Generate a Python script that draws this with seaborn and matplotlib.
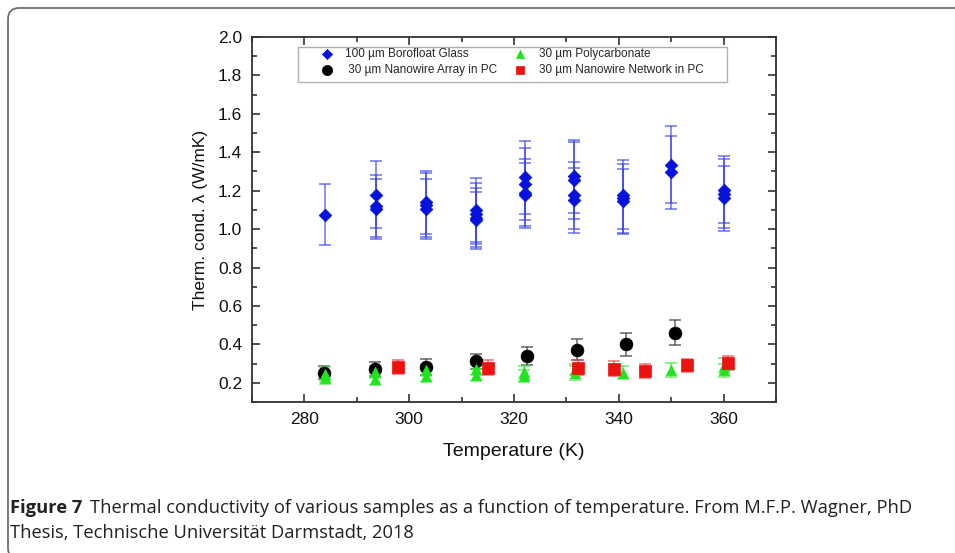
import matplotlib
matplotlib.use('Agg')
import matplotlib.pyplot as plt
from matplotlib.patches import FancyBboxPatch, Rectangle
from matplotlib.transforms import IdentityTransform
from matplotlib.ticker import MultipleLocator
import seaborn as sns
import pandas as pd

# --- data ---
glass_T = [284.0,
           293.6, 293.6, 293.6,
           303.2, 303.2, 303.2,
           312.7, 312.7, 312.7, 312.7,
           322.1, 322.1, 322.1, 322.1,
           331.4, 331.4, 331.4, 331.4,
           340.8, 340.8, 340.8,
           350.0, 350.0,
           360.0, 360.0, 360.0]
glass_k = [1.075,
           1.18, 1.12, 1.105,
           1.14, 1.125, 1.105,
           1.10, 1.08, 1.06, 1.045,
           1.27, 1.235, 1.19, 1.175,
           1.275, 1.255, 1.175, 1.15,
           1.18, 1.16, 1.145,
           1.335, 1.295,
           1.205, 1.185, 1.16]
glass_err = [0.16,
             0.175, 0.16, 0.155,
             0.165, 0.165, 0.155,
             0.165, 0.16, 0.155, 0.15,
             0.19, 0.185, 0.175, 0.17,
             0.19, 0.2, 0.175, 0.17,
             0.18, 0.18, 0.17,
             0.2, 0.19,
             0.175, 0.18, 0.17]

array_T = [283.8, 293.4, 303.2, 312.8, 322.5, 332.0, 341.4, 350.7]
array_k = [0.253, 0.272, 0.282, 0.312, 0.34, 0.373, 0.40, 0.46]
array_err = [0.035, 0.035, 0.04, 0.04, 0.045, 0.055, 0.06, 0.065]

pc_T = [284.0, 284.0, 293.5, 293.5, 303.2, 303.2, 312.8, 312.8, 322.0, 322.0,
        331.6, 331.6, 340.8, 349.9, 360.0, 360.0]
pc_k = [0.245, 0.225, 0.255, 0.22, 0.265, 0.235, 0.27, 0.24, 0.255, 0.235,
        0.27, 0.25, 0.253, 0.265, 0.29, 0.265]
pc_err = [0.035, 0.03, 0.03, 0.03, 0.03, 0.03, 0.03, 0.03, 0.035, 0.03,
          0.03, 0.035, 0.035, 0.037, 0.04, 0.035]

net_T = [297.9, 315.0, 332.2, 339.0, 345.0, 353.0, 360.8]
net_k = [0.283, 0.279, 0.279, 0.274, 0.262, 0.291, 0.305]
net_err = [0.038, 0.04, 0.038, 0.037, 0.035, 0.033, 0.036]

labels = ['100 µm Borofloat Glass', ' 30 µm Nanowire Array in PC',
          '30 µm Polycarbonate', '30 µm Nanowire Network in PC']

caption_bold = 'Figure 7'
caption_line1 = ('Thermal conductivity of various samples as a function of '
                 'temperature. From M.F.P. Wagner, PhD')
caption_line2 = 'Thesis, Technische Universität Darmstadt, 2018'

sns.set_theme(style='ticks')
plt.rcParams['font.family'] = ['Liberation Sans', 'DejaVu Sans']

fig = plt.figure(figsize=(9.55, 5.53), dpi=100)
ax = fig.add_axes([252 / 955, 1 - 402 / 553, 524 / 955, 365 / 553])

series = [
    (glass_T, glass_k, glass_err, labels[0], '#0512dc', '#3a44e8', 'D', 42),
    (array_T, array_k, array_err, labels[1], '#000000', '#333333', 'o', 85),
    (pc_T, pc_k, pc_err, labels[2], '#1ee51e', '#3ae83a', '^', 55),
    (net_T, net_k, net_err, labels[3], '#ee1111', '#e84040', 's', 65),
]

for T, k, err, lab, col, ecol, mk, size in series:
    ax.errorbar(T, k, yerr=err, fmt='none', ecolor=ecol, elinewidth=1.1,
                capsize=4, capthick=1.1, alpha=0.75, zorder=2)
    df = pd.DataFrame({'T': T, 'k': k})
    sns.scatterplot(data=df, x='T', y='k', ax=ax, marker=mk, s=size,
                    color=col, edgecolor=col, linewidth=0.5, label=lab,
                    zorder=3, legend=True)

ax.set_xlim(270, 370)
ax.set_ylim(0.1, 2.0)
ax.xaxis.set_major_locator(MultipleLocator(20))
ax.xaxis.set_minor_locator(MultipleLocator(10))
ax.yaxis.set_major_locator(MultipleLocator(0.2))
ax.yaxis.set_minor_locator(MultipleLocator(0.1))
ax.yaxis.set_major_formatter(matplotlib.ticker.FormatStrFormatter('%.1f'))
ax.tick_params(which='both', direction='in', top=True, right=True,
               colors='#333333', width=1.2, labelsize=12.5, pad=7)
ax.tick_params(which='major', length=6)
ax.tick_params(which='minor', length=3.5)
ax.tick_params(labelcolor='#111111')
for sp in ax.spines.values():
    sp.set_linewidth(1.3)
    sp.set_color('#333333')

ax.set_xlabel('Temperature (K)', fontsize=14, labelpad=12, color='#111111')
ax.set_ylabel('Therm. cond. λ (W/mK)', fontsize=12.5, labelpad=7, color='#111111')

# legend: frame drawn separately so the box can be wider than its content
handles, labs = ax.get_legend_handles_labels()
order = [labs.index(l) for l in labels]
leg = ax.legend([handles[i] for i in order], [labs[i] for i in order],
                ncol=2, loc='upper left',
                bbox_to_anchor=((321 - 252) / 524, 1 - (48 - 37) / 365),
                frameon=False, fontsize=8.5, borderpad=0, borderaxespad=0,
                handlelength=1.0, handletextpad=1.05, columnspacing=1.45,
                labelspacing=0.35, markerscale=0.8)
ax.add_patch(Rectangle(((298 - 252) / 524, 1 - (82.3 - 37) / 365),
                       (727 - 298) / 524, (82.3 - 46.7) / 365,
                       transform=ax.transAxes, fill=False,
                       edgecolor='#b0b0b0', linewidth=1.0, zorder=4,
                       clip_on=False))

# panel border (left/top with rounded corners)
fig.patches.append(FancyBboxPatch((8, -6), 1000, 553 - 8 + 6,
                                  boxstyle='round,pad=0,rounding_size=11',
                                  transform=IdentityTransform(), fill=False,
                                  edgecolor='#6e6e6e', linewidth=1.3))

# caption
cap_font = ['Open Sans', 'DejaVu Sans']
cap_size = 13.2
t1 = fig.text(10 / 955, 1 - 508 / 553, caption_bold, fontsize=cap_size,
              fontweight='bold', family=cap_font, color='#222222', va='center')
fig.canvas.draw()
bb = t1.get_window_extent(renderer=fig.canvas.get_renderer())
fig.text((bb.x1 + 8) / 955, 1 - 508 / 553, caption_line1, fontsize=cap_size,
         family=cap_font, color='#222222', va='center')
fig.text(10 / 955, 1 - 533 / 553, caption_line2, fontsize=cap_size,
         family=cap_font, color='#222222', va='center')

fig.savefig('out.png', dpi=100)
